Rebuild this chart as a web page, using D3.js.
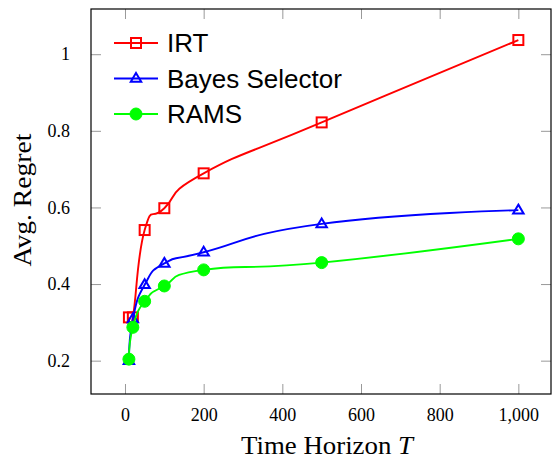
<!DOCTYPE html>
<html>
<head>
<meta charset="utf-8">
<script src="https://cdn.jsdelivr.net/npm/d3@7"></script>
<style>
  html, body { margin: 0; padding: 0; background: #fff; }
  svg { display: block; }
</style>
</head>
<body>
<svg id="chart" width="552" height="464"></svg>
<script>
// data
const horizons = [10, 20, 50, 100, 200, 500, 1000];
const irt = [0.313, 0.313, 0.541, 0.598, 0.689, 0.822, 1.037];
const bayes = [0.2, 0.309, 0.398, 0.454, 0.483, 0.557, 0.593];
const rams = [0.204, 0.287, 0.355, 0.395, 0.437, 0.456, 0.518];
const seriesNames = ["IRT", "Bayes Selector", "RAMS"];
const xTicks = [0, 200, 400, 600, 800, 1000];
const yTicks = [0.2, 0.4, 0.6, 0.8, 1];

const svg = d3.select("#chart");

// plot frame (pixel edges)
const frameL = 91, frameR = 551, frameT = 9, frameB = 394;

const x = d3.scaleLinear().domain([-86.4, 1083]).range([frameL, frameR]);
const y = d3.scaleLinear().domain([0.113, 1.118]).range([frameB, frameT]);

const serif = "'Liberation Serif', 'DejaVu Serif', serif";
const sans = "'Liberation Sans', Arial, sans-serif";
const tickLen = 10;
const tickColor = "#999";

// ticks on all four sides, pointing inward
function styleAxis(g) {
  g.select(".domain").remove();
  g.selectAll(".tick line").attr("stroke", tickColor).attr("stroke-width", 1);
  g.selectAll(".tick text")
    .attr("font-family", serif)
    .attr("font-size", 18)
    .attr("fill", "#000");
}

svg.append("g")
  .attr("transform", `translate(0,${frameB})`)
  .call(d3.axisBottom(x).tickValues(xTicks).tickFormat(d3.format(","))
    .tickSizeInner(-tickLen).tickPadding(14))
  .call(styleAxis);

svg.append("g")
  .attr("transform", `translate(0,${frameT})`)
  .call(d3.axisTop(x).tickValues(xTicks).tickFormat("").tickSizeInner(-tickLen))
  .call(styleAxis);

svg.append("g")
  .attr("transform", `translate(${frameL},0)`)
  .call(d3.axisLeft(y).tickValues(yTicks).tickFormat(d => d === 1 ? "1" : d3.format(".1f")(d))
    .tickSizeInner(-tickLen).tickPadding(21))
  .call(styleAxis);

svg.append("g")
  .attr("transform", `translate(${frameR},0)`)
  .call(d3.axisRight(y).tickValues(yTicks).tickFormat("").tickSizeInner(-tickLen))
  .call(styleAxis);

svg.append("rect")
  .attr("x", frameL).attr("y", frameT)
  .attr("width", frameR - frameL).attr("height", frameB - frameT)
  .attr("fill", "none").attr("stroke", "#000").attr("stroke-width", 1.2);

// axis labels (stretched a little to the Computer Modern widths of the original)
const xl = svg.append("text")
  .attr("x", 327).attr("y", 454)
  .attr("text-anchor", "middle")
  .attr("font-family", serif).attr("font-size", 25)
  .attr("textLength", 172).attr("lengthAdjust", "spacingAndGlyphs");
xl.append("tspan").text("Time Horizon ");
xl.append("tspan").attr("font-style", "italic").text("T");

svg.append("text")
  .attr("transform", "translate(31,200) rotate(-90)")
  .attr("text-anchor", "middle")
  .attr("font-family", serif).attr("font-size", 25)
  .attr("textLength", 133).attr("lengthAdjust", "spacingAndGlyphs")
  .text("Avg. Regret");

// series
const series = [
  { name: seriesNames[0], values: irt, color: "#ff0000", marker: "square" },
  { name: seriesNames[1], values: bayes, color: "#0000ff", marker: "triangle" },
  { name: seriesNames[2], values: rams, color: "#00ff00", marker: "circle" }
];

// pgfplots "smooth" is a looser spline than Catmull-Rom
const line = d3.line()
  .x((d, i) => x(horizons[i]))
  .y(d => y(d))
  .curve(d3.curveCardinal.tension(-0.5));

function drawMarker(g, type, color, cx, cy) {
  if (type === "square") {
    g.append("rect")
      .attr("x", cx - 5).attr("y", cy - 5).attr("width", 10).attr("height", 10)
      .attr("fill", "none").attr("stroke", color).attr("stroke-width", 2);
  } else if (type === "triangle") {
    const r = 5.5;
    const pts = [[cx, cy - r], [cx + r * 0.95, cy + r * 0.6], [cx - r * 0.95, cy + r * 0.6]];
    g.append("polygon")
      .attr("points", pts.map(p => p.join(",")).join(" "))
      .attr("fill", "none").attr("stroke", color).attr("stroke-width", 2);
  } else {
    g.append("circle")
      .attr("cx", cx).attr("cy", cy).attr("r", 6)
      .attr("fill", color).attr("stroke", color).attr("stroke-width", 1);
  }
}

series.forEach(s => {
  const g = svg.append("g");
  g.append("path")
    .attr("d", line(s.values))
    .attr("fill", "none").attr("stroke", s.color).attr("stroke-width", 1.9);
  s.values.forEach((v, i) => drawMarker(g, s.marker, s.color, x(horizons[i]), y(v)));
});

// legend
const legend = svg.append("g");
series.forEach((s, i) => {
  const ry = 43 + i * 35.5;
  legend.append("line")
    .attr("x1", 114).attr("x2", 158).attr("y1", ry).attr("y2", ry)
    .attr("stroke", s.color).attr("stroke-width", 2);
  drawMarker(legend, s.marker, s.color, 136, ry);
  legend.append("text")
    .attr("x", 167).attr("y", ry + 9)
    .attr("font-family", sans).attr("font-size", 26)
    .text(s.name);
});
</script>
</body>
</html>
